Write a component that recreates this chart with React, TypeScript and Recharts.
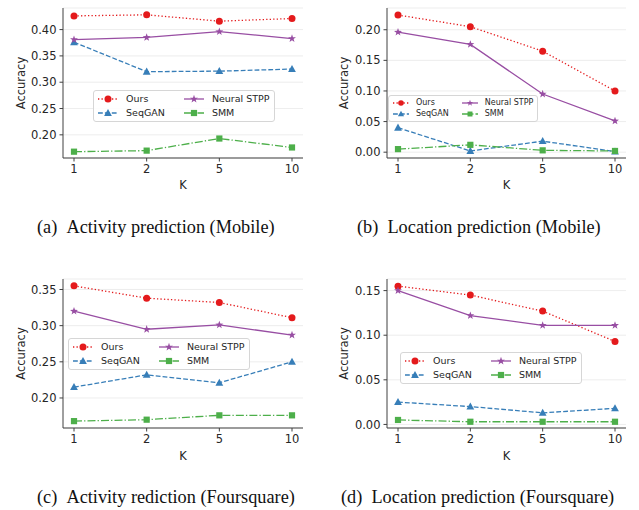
import React from 'react';
import { LineChart, Line, XAxis, YAxis, CartesianGrid, Legend } from 'recharts';

// K values on the x axis
const kLabels = ['1', '2', '5', '10'];

// (a) Activity prediction (Mobile)
const actMobileOurs = [0.426, 0.428, 0.416, 0.421];
const actMobileSeqGAN = [0.376, 0.320, 0.321, 0.325];
const actMobileStpp = [0.381, 0.385, 0.396, 0.383];
const actMobileSmm = [0.168, 0.170, 0.193, 0.176];
const actMobileTicks = [0.2, 0.25, 0.3, 0.35, 0.4];

// (b) Location prediction (Mobile)
const locMobileOurs = [0.224, 0.205, 0.165, 0.100];
const locMobileSeqGAN = [0.040, 0.002, 0.018, 0.001];
const locMobileStpp = [0.196, 0.176, 0.095, 0.051];
const locMobileSmm = [0.005, 0.012, 0.003, 0.002];
const locMobileTicks = [0, 0.05, 0.1, 0.15, 0.2];

// (c) Activity prediction (Foursquare)
const actFsqOurs = [0.355, 0.338, 0.332, 0.311];
const actFsqSeqGAN = [0.215, 0.232, 0.221, 0.250];
const actFsqStpp = [0.320, 0.295, 0.301, 0.287];
const actFsqSmm = [0.168, 0.170, 0.176, 0.176];
const actFsqTicks = [0.2, 0.25, 0.3, 0.35];

// (d) Location prediction (Foursquare)
const locFsqOurs = [0.155, 0.145, 0.127, 0.093];
const locFsqSeqGAN = [0.025, 0.020, 0.013, 0.018];
const locFsqStpp = [0.150, 0.122, 0.111, 0.111];
const locFsqSmm = [0.005, 0.003, 0.003, 0.003];
const locFsqTicks = [0, 0.05, 0.1, 0.15];

const series = [
  { key: 'ours', name: 'Ours', color: '#e41a1c', dash: '1.3 2.2', shape: 'circle' },
  { key: 'seqgan', name: 'SeqGAN', color: '#377eb8', dash: '4.8 2.1', shape: 'triangle' },
  { key: 'stpp', name: 'Neural STPP', color: '#984ea3', dash: undefined, shape: 'star' },
  { key: 'smm', name: 'SMM', color: '#4daf4a', dash: '8 2.1 1.3 2.1', shape: 'square' },
];

const buildRows = (ours: number[], seqgan: number[], stpp: number[], smm: number[]) =>
  kLabels.map((k, i) => ({ k, ours: ours[i], seqgan: seqgan[i], stpp: stpp[i], smm: smm[i] }));

const Marker = ({ shape, cx, cy, color, s = 1 }: any) => {
  if (cx == null || cy == null) return null;
  if (shape === 'circle') return <circle cx={cx} cy={cy} r={3.5 * s} fill={color} />;
  if (shape === 'square') {
    const h = 3.1 * s;
    return <rect x={cx - h} y={cy - h} width={2 * h} height={2 * h} fill={color} />;
  }
  if (shape === 'triangle') {
    const r = 4.1 * s;
    return <polygon points={`${cx},${cy - r} ${cx - r * 0.95},${cy + r * 0.72} ${cx + r * 0.95},${cy + r * 0.72}`} fill={color} />;
  }
  // star
  const R = 4.2 * s;
  const ri = R * 0.4;
  const pts: string[] = [];
  for (let i = 0; i < 10; i++) {
    const rad = i % 2 === 0 ? R : ri;
    const a = -Math.PI / 2 + (i * Math.PI) / 5;
    pts.push(`${cx + rad * Math.cos(a)},${cy + rad * Math.sin(a)}`);
  }
  return <polygon points={pts.join(' ')} fill={color} />;
};

type LegendCfg = { left: number; top: number; font: number; rowH: number; handle: number; gap: number; colGap: number; ms: number };

const LegendBox = ({ c }: { c: LegendCfg }) => (
  <div
    style={{
      display: 'grid',
      gridTemplateRows: `repeat(2, ${c.rowH}px)`,
      gridAutoFlow: 'column',
      columnGap: c.colGap,
      alignItems: 'center',
      padding: '1px 4px 1px 4px',
      border: '1px solid #d6d6d6',
      borderRadius: 3,
      background: 'rgba(255,255,255,0.85)',
      fontFamily: 'DejaVu Sans',
      fontSize: c.font,
      color: '#262626',
      lineHeight: 1,
    }}
  >
    {series.map((s) => (
      <div key={s.key} style={{ display: 'flex', alignItems: 'center' }}>
        <svg width={c.handle} height={10} style={{ marginRight: c.gap }}>
          <line x1={0} x2={c.handle} y1={5} y2={5} stroke={s.color} strokeWidth={1.3} strokeDasharray={s.dash} />
          <Marker shape={s.shape} cx={c.handle / 2} cy={5} color={s.color} s={c.ms} />
        </svg>
        <span>{s.name}</span>
      </div>
    ))}
  </div>
);

const panels = [
  {
    id: 'a', ox: 0, oy: 0, top: 8, right: 17, bottom: 15, yWidth: 63, domain: [0.156, 0.441],
    ticks: actMobileTicks, rows: buildRows(actMobileOurs, actMobileSeqGAN, actMobileStpp, actMobileSmm),
    legend: { left: 93, top: 90, font: 9.5, rowH: 14, handle: 20, gap: 8, colGap: 19, ms: 1 }, ylabOff: 21, klabOff: 11,
  },
  {
    id: 'b', ox: 320, oy: 0, top: 8, right: 14, bottom: 15, yWidth: 67, domain: [-0.0095, 0.2355],
    ticks: locMobileTicks, rows: buildRows(locMobileOurs, locMobileSeqGAN, locMobileStpp, locMobileSmm),
    legend: { left: 68, top: 95, font: 8, rowH: 11.5, handle: 16, gap: 7, colGap: 13, ms: 0.8 }, ylabOff: 24, klabOff: 11,
  },
  {
    id: 'c', ox: 0, oy: 255, top: 24, right: 17, bottom: 0, yWidth: 63, domain: [0.1585, 0.3645],
    ticks: actFsqTicks, rows: buildRows(actFsqOurs, actFsqSeqGAN, actFsqStpp, actFsqSmm),
    legend: { left: 68, top: 83, font: 9.5, rowH: 14, handle: 20, gap: 8, colGap: 19, ms: 1 }, ylabOff: 21, klabOff: 10,
  },
  {
    id: 'd', ox: 320, oy: 255, top: 24, right: 14, bottom: 0, yWidth: 67, domain: [-0.004, 0.163],
    ticks: locFsqTicks, rows: buildRows(locFsqOurs, locFsqSeqGAN, locFsqStpp, locFsqSmm),
    legend: { left: 80, top: 97, font: 9.5, rowH: 14, handle: 20, gap: 8, colGap: 19, ms: 1 }, ylabOff: 24, klabOff: 10,
  },
];

const captions = [
  { left: 37, top: 217, text: '(a)\u2002Activity prediction (Mobile)' },
  { left: 357, top: 217, text: '(b)\u2002Location prediction (Mobile)' },
  { left: 37, top: 487, text: '(c)\u2002Activity rediction (Foursquare)' },
  { left: 341, top: 487, text: '(d)\u2002Location prediction (Foursquare)' },
];

const tickStyle = { fontFamily: 'DejaVu Sans', fontSize: 11.5, fill: '#262626' };
const labelStyle = { fontFamily: 'DejaVu Sans', fontSize: 11.5, fill: '#262626' };
const frame = '#404040';

const Panel = ({ p }: { p: (typeof panels)[number] }) => (
  <div style={{ position: 'absolute', left: p.ox, top: p.oy }}>
    <LineChart width={320} height={215} data={p.rows} margin={{ top: p.top, right: p.right, bottom: p.bottom, left: 0 }}>
      <CartesianGrid vertical={false} stroke="#e8e8e8" strokeWidth={0.8} />
      <XAxis
        dataKey="k"
        type="category"
        padding={{ left: 11, right: 11 }}
        height={42}
        tick={tickStyle}
        tickSize={3.5}
        tickMargin={3}
        axisLine={{ stroke: frame }}
        tickLine={{ stroke: frame }}
        label={{ value: 'K', position: 'insideBottom', offset: p.klabOff, style: labelStyle }}
      />
      <XAxis xAxisId="t" dataKey="k" orientation="top" height={0} tick={false} tickLine={false} axisLine={{ stroke: frame }} />
      <YAxis
        type="number"
        domain={p.domain}
        allowDataOverflow
        ticks={p.ticks}
        width={p.yWidth}
        tick={tickStyle}
        tickSize={3.5}
        tickMargin={3}
        tickFormatter={(v: number) => v.toFixed(2)}
        axisLine={{ stroke: frame }}
        tickLine={{ stroke: frame }}
        label={{ value: 'Accuracy', angle: -90, position: 'insideLeft', offset: p.ylabOff, style: { ...labelStyle, textAnchor: 'middle' } }}
      />
      <YAxis yAxisId="r" orientation="right" type="number" domain={p.domain} allowDataOverflow width={0} tick={false} tickLine={false} axisLine={{ stroke: frame }} />
      {series.map((s) => (
        <Line
          key={s.key}
          dataKey={s.key}
          name={s.name}
          stroke={s.color}
          strokeWidth={1.3}
          strokeDasharray={s.dash}
          isAnimationActive={false}
          activeDot={false}
          dot={(d: any) => <Marker key={`${s.key}-${d.index}`} shape={s.shape} cx={d.cx} cy={d.cy} color={s.color} />}
        />
      ))}
      <Legend
        layout="horizontal"
        verticalAlign="middle"
        align="center"
        wrapperStyle={{ left: p.legend.left, top: p.legend.top, width: 'auto' }}
        content={() => <LegendBox c={p.legend} />}
      />
    </LineChart>
  </div>
);

export default function App() {
  return (
    <div style={{ position: 'absolute', left: 0, top: 0, width: 639, height: 510, background: '#fff' }}>
      {panels.map((p) => (
        <Panel key={p.id} p={p} />
      ))}
      {captions.map((c) => (
        <div
          key={c.text}
          style={{
            position: 'absolute', left: c.left, top: c.top, lineHeight: '20px',
            fontFamily: 'Liberation Serif', fontSize: 18.3, color: '#111', whiteSpace: 'nowrap',
          }}
        >
          {c.text}
        </div>
      ))}
    </div>
  );
}
